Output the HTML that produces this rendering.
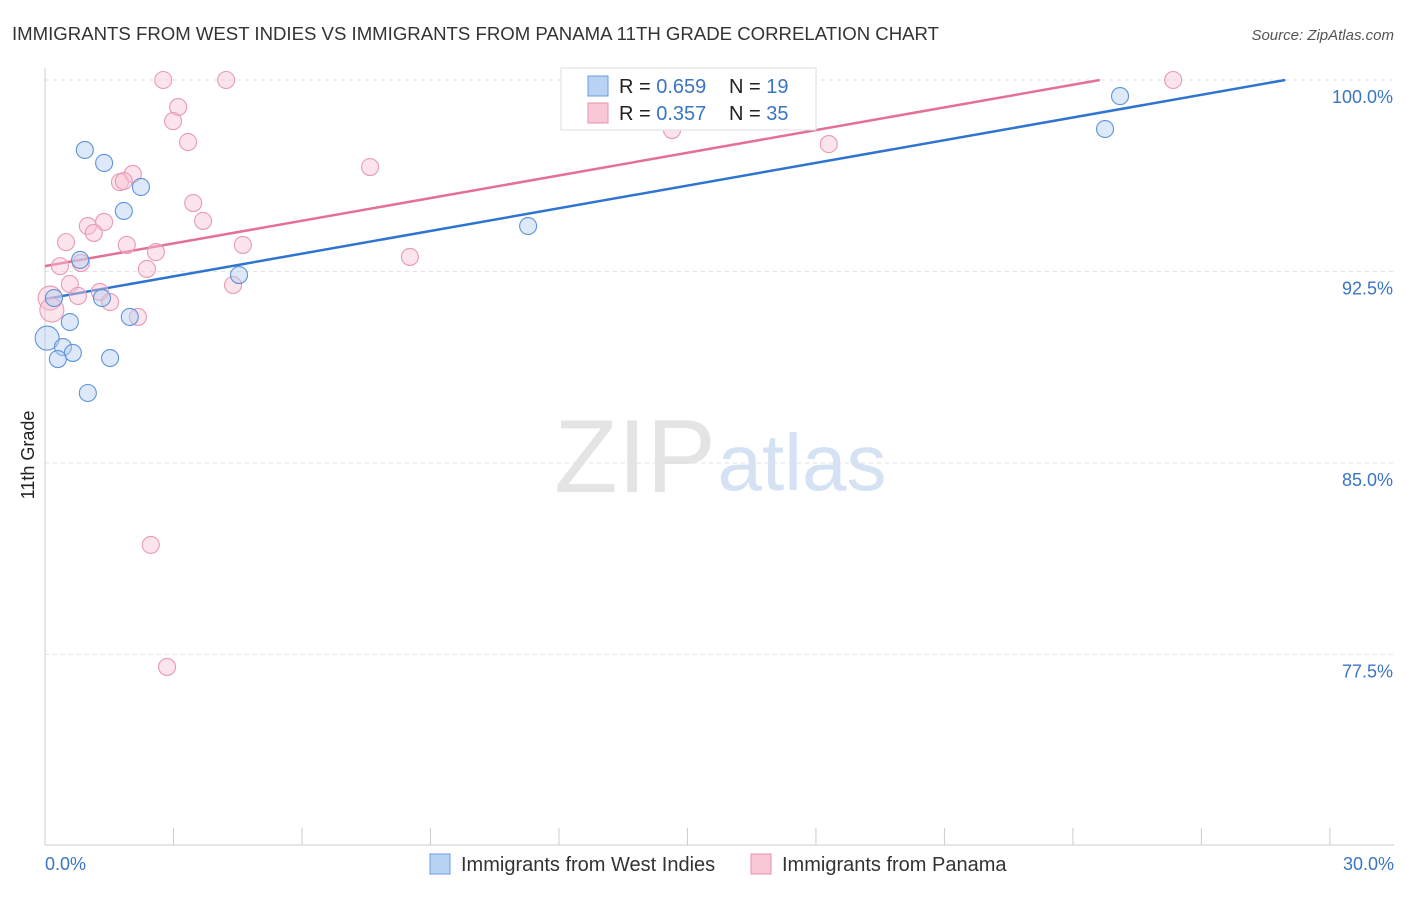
<!DOCTYPE html>
<html><head><meta charset="utf-8"><style>
body{margin:0;background:#fff;font-family:"Liberation Sans",sans-serif;}
svg text{font-family:"Liberation Sans",sans-serif;}
</style></head><body>
<svg id="chart" width="1406" height="892">
<text x="12" y="40" font-size="18.6" fill="#333">IMMIGRANTS FROM WEST INDIES VS IMMIGRANTS FROM PANAMA 11TH GRADE CORRELATION CHART</text>
<text x="1394" y="40" font-size="15" fill="#555" font-style="italic" text-anchor="end">Source: ZipAtlas.com</text>
<g>
<text x="635" y="492" font-size="104" fill="#e4e4e4" font-family="Liberation Serif" text-anchor="middle">ZIP</text>
<text x="802" y="490" font-size="80" fill="#d4e2f4" text-anchor="middle">atlas</text>
</g>
<g id="grid"></g>
<g id="axes"></g>
<g id="lines"></g>
<g id="points"></g>
<text transform="translate(34,455) rotate(-90)" font-size="18" fill="#222" text-anchor="middle">11th Grade</text>
<text x="45" y="870" font-size="18" fill="#3a75c4">0.0%</text>
<text x="1394" y="870" font-size="18" fill="#3a75c4" text-anchor="end">30.0%</text>
<g>
<rect x="561" y="68" width="255" height="62" fill="#fff" stroke="#ddd"/>
<rect x="588" y="76" width="20" height="20" fill="#b9d3f3" stroke="#6b9be0"/>
<rect x="588" y="103" width="20" height="20" fill="#f9c8d6" stroke="#e890ac"/>
<text x="619" y="93" font-size="20" fill="#222">R = <tspan fill="#3a75c4">0.659</tspan></text>
<text x="729" y="93" font-size="20" fill="#222">N = <tspan fill="#3a75c4"> 19</tspan></text>
<text x="619" y="120" font-size="20" fill="#222">R = <tspan fill="#3a75c4">0.357</tspan></text>
<text x="729" y="120" font-size="20" fill="#222">N = <tspan fill="#3a75c4">35</tspan></text>
</g>
<g>
<rect x="430" y="854" width="20" height="20" fill="#b9d3f3" stroke="#6b9be0"/>
<text x="461" y="871" font-size="20" fill="#333">Immigrants from West Indies</text>
<rect x="751" y="854" width="20" height="20" fill="#f9c8d6" stroke="#e890ac"/>
<text x="782" y="871" font-size="20" fill="#333">Immigrants from Panama</text>
</g>
</svg>
<script>
const yTicks=[100,92.5,85,77.5];
const yTickLabels=["100.0%","92.5%","85.0%","77.5%"];
const xTicks=[0,3,6,9,12,15,18,21,24,27,30];
const blueX=[0.93,1.38,2.24,1.84,0.82,4.53,1.33,0.21,1.98,0.58,0.05,0.42,0.65,0.30,1.52,1.00,11.28,24.75,25.10];
const blueY=[97.26,96.75,95.81,94.87,92.95,92.36,91.46,91.46,90.72,90.52,89.89,89.54,89.31,89.07,89.11,87.74,94.28,98.08,99.37];
const pinkX=[2.76,4.23,3.11,2.99,3.34,7.59,2.05,1.75,1.84,3.46,3.69,1.38,1.00,1.14,0.49,1.91,4.62,2.59,8.52,0.35,0.84,2.38,0.58,4.39,1.28,0.77,1.52,2.17,0.12,0.16,14.64,18.30,26.34,2.47,2.85];
const pinkY=[100,100,98.94,98.39,97.57,96.59,96.32,96.00,96.04,95.18,94.48,94.44,94.28,94.01,93.65,93.54,93.54,93.26,93.07,92.71,92.83,92.60,92.01,91.97,91.70,91.54,91.30,90.72,91.46,90.99,98.04,97.49,100,81.79,77.01];
const blueTrend=[91.42,0.2963];
const pinkTrend=[92.71,0.296];
const NS='http://www.w3.org/2000/svg';
const sx=v=>45+v*42.83;
const sy=v=>80+(100-v)*25.53;
function mk(tag,attrs,parent){const e=document.createElementNS(NS,tag);for(const k in attrs)e.setAttribute(k,attrs[k]);document.getElementById(parent).appendChild(e);return e;}
yTicks.forEach((t,i)=>{
 const l=mk('line',{x1:45,x2:1394,y1:sy(t),y2:sy(t),stroke:'#e2e2e2','stroke-dasharray':'4,4'},'grid');
 
 
 const tx=mk('text',{x:1393,y:sy(t)+23,'font-size':18,fill:'#3a75c4','text-anchor':'end'},'grid');
 tx.textContent=yTickLabels[i];
 
 
});
const ax=mk('line',{x1:45,x2:45,y1:68,y2:845,stroke:'#ccc'},'axes');


const bx=mk('line',{x1:45,x2:1394,y1:845,y2:845,stroke:'#ccc'},'axes');


xTicks.forEach(t=>{
 const l=mk('line',{x1:sx(t),x2:sx(t),y1:828,y2:845,stroke:'#ccc'},'axes');
 
 
});
function trend(tr,color,name){
 const y1=tr[0];const x2=(100-tr[0])/tr[1];const l=mk('line',{x1:sx(0),y1:sy(y1),x2:sx(x2),y2:sy(100),stroke:color,'stroke-width':2.5},'lines');
 
 
}
trend(blueTrend,'#2f74d0','trend-line-west-indies');
trend(pinkTrend,'#e46f98','trend-line-panama');
function pts(xs,ys,fill,stroke,name){
 xs.forEach((x,i)=>{
  const r=(x<0.2)?12:8.5;
  const c=mk('circle',{cx:sx(x),cy:sy(ys[i]),r:r,fill:fill,stroke:stroke,'stroke-width':1.1,'fill-opacity':0.45},'points');
  
  
 });
}
pts(pinkX,pinkY,'#f7c3d3','#e99ab4','point-panama');
pts(blueX,blueY,'#b3cff2','#5f93da','point-west-indies');
</script>
</body></html>
